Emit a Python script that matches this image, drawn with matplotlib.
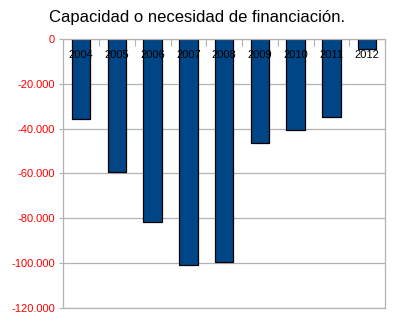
import numpy as np
import matplotlib.pyplot as plt
from matplotlib.ticker import FuncFormatter
from matplotlib.transforms import blended_transform_factory

years = ["2004", "2005", "2006", "2007", "2008", "2009", "2010", "2011", "2012"]
values = [-35500, -59200, -81800, -100900, -99600, -46500, -40700, -34700, -4600]
y_ticks = [0, -20000, -40000, -60000, -80000, -100000, -120000]

grid_col = "#b3b3b3"

plt.rcParams["font.family"] = ["Liberation Sans", "DejaVu Sans"]

fig = plt.figure(figsize=(3.94, 3.23), dpi=100)
ax = fig.add_axes([0.1607, 0.0464, 0.8166, 0.8329])

x = np.arange(len(years))
ax.bar(x, values, width=0.52, color="#004586", edgecolor="black", linewidth=0.9, zorder=2)

ax.set_xlim(-0.5, len(years) - 0.5)
ax.set_ylim(-120000, 0)
ax.set_yticks(y_ticks)
ax.yaxis.set_major_formatter(
    FuncFormatter(lambda v, p: f"{int(v):,}".replace(",", "."))
)
ax.tick_params(axis="y", colors=grid_col, labelcolor="#ff0000", labelsize=8,
               length=3, width=0.8, pad=3)
ax.grid(axis="y", color=grid_col, linewidth=0.9)
ax.set_axisbelow(True)

# boundary ticks on the zero line
ax.xaxis.tick_top()
ax.set_xticks([])
ax.set_xticks(np.arange(len(years) + 1) - 0.5, minor=True)
ax.tick_params(axis="x", which="minor", direction="in", length=5,
               color=grid_col, width=0.8)

# category labels sit just under the zero line, over the bars
trans = blended_transform_factory(ax.transData, ax.transAxes)
for xi, yr in zip(x, years):
    ax.text(xi, 0.94, yr, transform=trans, ha="center", va="center",
            fontsize=8, color="black", zorder=5)

for s in ax.spines.values():
    s.set_color(grid_col)
    s.set_linewidth(0.9)

fig.text(0.5, 0.947, "Capacidad o necesidad de financiación.", ha="center",
         va="center", fontsize=12)

fig.savefig("out.png", dpi=100)
